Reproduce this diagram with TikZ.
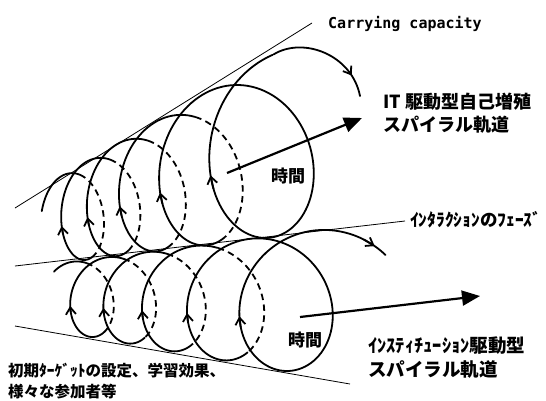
\documentclass[tikz,border=0pt]{standalone}
\usepackage{fontspec}
\newfontfamily\jp{Noto Sans CJK JP}
\newfontfamily\mono{DejaVu Sans Mono}
\usetikzlibrary{arrows.meta,decorations.markings}
\begin{document}
\begin{tikzpicture}[x=1pt,y=-1pt,
  curve/.style={line width=1.8pt, line cap=round, line join=round},
  hidden/.style={line width=1.8pt, dash pattern=on 6.5pt off 4.5pt},
  thinline/.style={line width=0.8pt},
  barb/.style={curve, -{Straight Barb[length=7pt,width=10pt]}},
  bigarrow/.style={line width=2.2pt, -{Triangle[length=18pt,width=15pt]}},
  lbl/.style={inner sep=0pt, anchor=west, align=left},
  declare function={
    ucx(\t)=-41.6+125.4*exp(0.223144*\t);
    ua(\t)=28*exp(0.223144*\t);
    ucy(\t)=254.8-41.8*exp(0.223144*\t);
    ub(\t)=20.5+26.5*exp(0.223144*\t);
    ux(\t)=ucx(\t)-ua(\t)*sin(360*\t);
    uy(\t)=ucy(\t)+ub(\t)*cos(360*\t);
    lcx(\t)=-130.5+223.5*exp(0.157004*\t);
    la(\t)=30*exp(0.182322*\t);
    lcy(\t)=293+5.15*exp(0.157004*\t);
    lb(\t)=5.1+33.75*exp(0.157004*\t);
    lx(\t)=lcx(\t)-la(\t)*sin(360*\t);
    ly(\t)=lcy(\t)+lb(\t)*cos(360*\t);
  }]
\useasboundingbox (0,0) rectangle (546,400);

% guide lines
\coordinate (capA) at (15,208);
\coordinate (capB) at (312,23);
\coordinate (intA) at (15,266);
\coordinate (intB) at (405,221);
\coordinate (botA) at (15,326);
\coordinate (botB) at (350,384);
\draw[thinline] (capA) -- (capB);
\draw[thinline] (intA) -- (intB);
\draw[thinline] (botA) -- (botB);

% upper spiral
\foreach \a/\b in {-0.72/-0.45, -0.08/0.55, 0.92/1.55, 1.92/2.55}
  \draw[curve] plot[variable=\t, domain=\a:\b, samples=60] ({ux(\t)},{uy(\t)});
\foreach \a/\b in {-0.45/-0.08, 0.55/0.92, 1.55/1.92, 2.55/2.92}
  \draw[hidden] plot[variable=\t, domain=\a:\b, samples=50] ({ux(\t)},{uy(\t)});
\draw[curve] plot[variable=\t, domain=2.92:4.45, samples=160] ({ux(\t)},{uy(\t)});
\coordinate (uEnd) at ({ux(4.45)},{uy(4.45)});
\coordinate (uTip) at (360,96);
\draw[curve, decoration={markings, mark=at position 0.8 with {\arrow{Straight Barb[length=7pt,width=10pt]}}}, postaction={decorate}]
  (uEnd) .. controls (303.5,36.1) and (352,55) .. (uTip);
\foreach \p [evaluate=\p as \q using \p-0.025] in {0.2,1.2,2.2,3.2,4.2}
  \draw[barb] plot[variable=\t, domain=\q:\p, samples=2] ({ux(\t)},{uy(\t)});

% lower spiral
\foreach \a/\b in {-0.62/-0.45, -0.08/0.55, 0.92/1.55, 1.92/2.55}
  \draw[curve] plot[variable=\t, domain=\a:\b, samples=60] ({lx(\t)},{ly(\t)});
\foreach \a/\b in {-0.45/-0.08, 0.55/0.92, 1.55/1.92, 2.55/2.92}
  \draw[hidden] plot[variable=\t, domain=\a:\b, samples=50] ({lx(\t)},{ly(\t)});
\draw[curve] plot[variable=\t, domain=2.92:4.64, samples=170] ({lx(\t)},{ly(\t)});
\foreach \p [evaluate=\p as \q using \p-0.025] in {0.22,1.22,2.22,3.22,4.22,4.61}
  \draw[barb] plot[variable=\t, domain=\q:\p, samples=2] ({lx(\t)},{ly(\t)});

% big arrows
\coordinate (uaS) at (227,173);
\coordinate (uaE) at (362,118);
\coordinate (laS) at (300,317);
\coordinate (laE) at (480,296);
\draw[bigarrow] (uaS) -- (uaE);
\draw[bigarrow] (laS) -- (laE);

% labels
\node[lbl, font=\mono\bfseries\fontsize{15}{18}\selectfont] (cap) at (328,24) {Carrying capacity};
\node[lbl, font=\jp\bfseries\fontsize{18}{23.5}\selectfont] (itlab) at (383,113) {IT 駆動型自己増殖\\スパイラル軌道};
\node[inner sep=0pt, font=\jp\bfseries\fontsize{17}{20}\selectfont] (time1) at (288,176) {時間};
\node[inner sep=0pt, font=\jp\bfseries\fontsize{17}{20}\selectfont] (time2) at (305,340) {時間};
\node[lbl, font=\jp\bfseries\fontsize{17.5}{20}\selectfont] (inter) at (410,220) {ｲﾝﾀﾗｸｼｮﾝのﾌｪｰｽﾞ};
\node[lbl, font=\jp\bfseries\fontsize{18.5}{24}\selectfont] (inst) at (368,358) {ｲﾝｽﾃｨﾁｭｰｼｮﾝ駆動型\\スパイラル軌道};
\node[lbl, font=\jp\bfseries\fontsize{15.5}{21}\selectfont] (init) at (8,381) {初期ﾀｰｹﾞｯﾄの設定、学習効果、\\様々な参加者等};
\end{tikzpicture}
\end{document}
